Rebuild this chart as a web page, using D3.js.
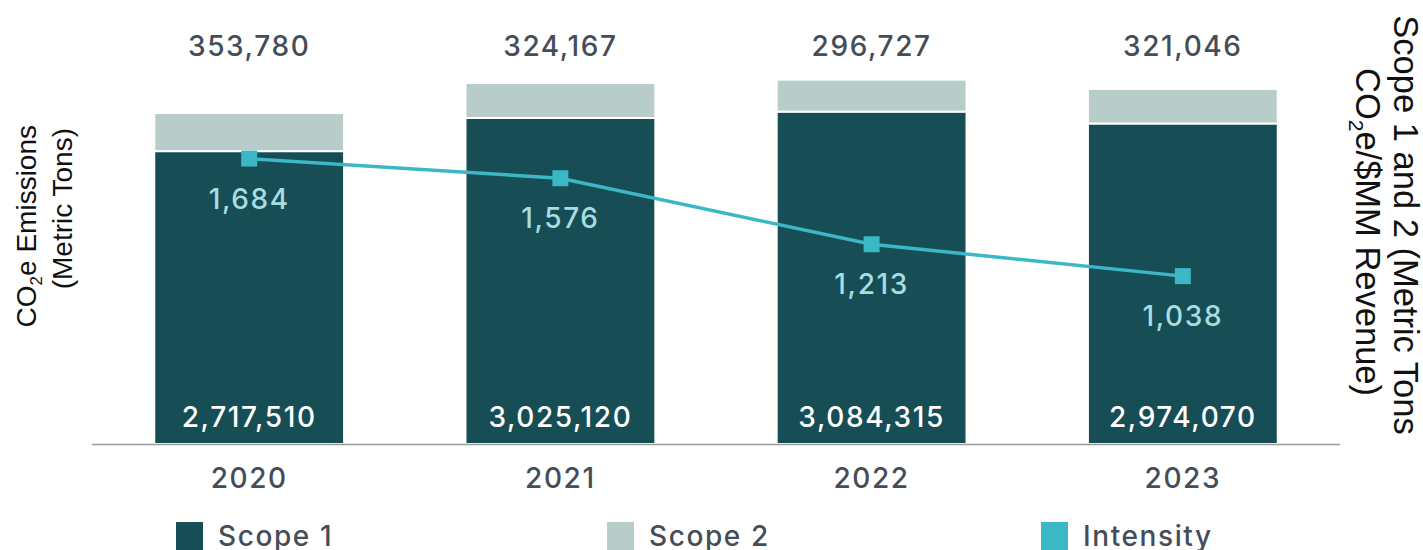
<!DOCTYPE html>
<html>
<head>
<meta charset="utf-8">
<script src="https://cdn.jsdelivr.net/npm/d3@7"></script>
<style>
  body { margin: 0; background: #fff; }
  svg { display: block; }
</style>
</head>
<body>
<div id="chart"></div>
<script>
const years = ["2020", "2021", "2022", "2023"];
const scope1 = [2717510, 3025120, 3084315, 2974070];
const scope2 = [353780, 324167, 296727, 321046];
const intensity = [1684, 1576, 1213, 1038];
const legendLabels = ["Scope 1", "Scope 2", "Intensity"];

const width = 1423,
    height = 550;
const colors = {
    scope1: "#174d55",
    scope2: "#b8cdca",
    line: "#3bb7c5",
    lineLabel: "#a7dde1",
    text: "#454d58",
};
const font = "Inter, 'Noto Sans', sans-serif";
const titleFont = "'Liberation Sans', Arial, sans-serif";
const fmt = d3.format(",");

const data = years.map((y, i) => ({
    year: y,
    s1: scope1[i],
    s2: scope2[i],
    intensity: intensity[i],
}));

const svg = d3
    .select("#chart")
    .append("svg")
    .attr("width", width)
    .attr("height", height)
    .attr("viewBox", [0, 0, width, height]);

const x = d3
    .scaleBand()
    .domain(years)
    .range([92, 1340])
    .paddingInner(0.39)
    .paddingOuter(0.2);

const y = d3.scaleLinear().domain([0, 4120000]).range([444, 0]);

// intensity on its own axis (not drawn)
const y2 = d3.scaleLinear().domain([0, 2550]).range([465, 1]);

// helper for the medium-weight labels
function label(sel) {
    return sel
        .attr("text-anchor", "middle")
        .attr("font-family", font)
        .attr("font-size", 28)
        .attr("font-weight", 500)
        .attr("letter-spacing", 1.6);
}

const bars = svg.append("g");

// scope 1
bars.selectAll("rect.s1")
    .data(data)
    .join("rect")
    .attr("class", "s1")
    .attr("x", (d) => x(d.year))
    .attr("width", x.bandwidth())
    .attr("y", (d) => y(d.s1))
    .attr("height", (d) => y(0) - y(d.s1))
    .attr("fill", colors.scope1)
    .attr("stroke", "#fff")
    .attr("stroke-width", 2);

// scope 2 stacked on top
bars.selectAll("rect.s2")
    .data(data)
    .join("rect")
    .attr("class", "s2")
    .attr("x", (d) => x(d.year))
    .attr("width", x.bandwidth())
    .attr("y", (d) => y(d.s1 + d.s2))
    .attr("height", (d) => y(d.s1) - y(d.s1 + d.s2))
    .attr("fill", colors.scope2)
    .attr("stroke", "#fff")
    .attr("stroke-width", 2);

// baseline
svg.append("line")
    .attr("x1", x.range()[0])
    .attr("x2", x.range()[1])
    .attr("y1", y(0) + 0.5)
    .attr("y2", y(0) + 0.5)
    .attr("stroke", "#9a9a9a")
    .attr("stroke-width", 1.5);

const cx = (d) => x(d.year) + x.bandwidth() / 2;

// scope 2 values in top row
svg.append("g")
    .selectAll("text")
    .data(data)
    .join("text")
    .call(label)
    .attr("x", cx)
    .attr("y", 56)
    .attr("fill", colors.text)
    .text((d) => fmt(d.s2));

// scope 1 values inside bars
svg.append("g")
    .selectAll("text")
    .data(data)
    .join("text")
    .call(label)
    .attr("x", cx)
    .attr("y", y(0) - 17)
    .attr("fill", "#fff")
    .text((d) => fmt(d.s1));

// year labels
svg.append("g")
    .selectAll("text")
    .data(data)
    .join("text")
    .call(label)
    .attr("x", cx)
    .attr("y", 488)
    .attr("fill", colors.text)
    .text((d) => d.year);

// intensity line
const line = d3
    .line()
    .x(cx)
    .y((d) => y2(d.intensity));

svg.append("path")
    .datum(data)
    .attr("d", line)
    .attr("fill", "none")
    .attr("stroke", colors.line)
    .attr("stroke-width", 3.5);

svg.append("g")
    .selectAll("rect")
    .data(data)
    .join("rect")
    .attr("x", (d) => cx(d) - 8)
    .attr("y", (d) => y2(d.intensity) - 8)
    .attr("width", 16)
    .attr("height", 16)
    .attr("fill", colors.line);

svg.append("g")
    .selectAll("text")
    .data(data)
    .join("text")
    .call(label)
    .attr("x", cx)
    .attr("y", (d) => y2(d.intensity) + 50)
    .attr("fill", colors.lineLabel)
    .text((d) => fmt(d.intensity));

// left axis title
const leftTitle = svg
    .append("text")
    .attr("transform", "translate(36,125) rotate(-90)")
    .attr("text-anchor", "end")
    .attr("font-family", titleFont)
    .attr("font-size", 28)
    .attr("fill", "#111");
leftTitle.append("tspan").text("CO");
leftTitle.append("tspan").attr("font-size", 17).attr("dy", 6).text("2");
leftTitle.append("tspan").attr("dy", -6).text("e Emissions");
svg.append("text")
    .attr("transform", "translate(72,128) rotate(-90)")
    .attr("text-anchor", "end")
    .attr("font-family", titleFont)
    .attr("font-size", 28)
    .attr("fill", "#111")
    .text("(Metric Tons)");

// right axis title
svg.append("text")
    .attr("transform", "translate(1394,225) rotate(90)")
    .attr("text-anchor", "middle")
    .attr("font-family", titleFont)
    .attr("font-size", 34.5)
    .attr("fill", "#111")
    .text("Scope 1 and 2 (Metric Tons");
const rightTitle2 = svg
    .append("text")
    .attr("transform", "translate(1356,232) rotate(90)")
    .attr("text-anchor", "middle")
    .attr("font-family", titleFont)
    .attr("font-size", 34.5)
    .attr("fill", "#111");
rightTitle2.append("tspan").text("CO");
rightTitle2.append("tspan").attr("font-size", 21).attr("dy", 7).text("2");
rightTitle2.append("tspan").attr("dy", -7).text("e/$MM Revenue)");

// legend
const legendColors = [colors.scope1, colors.scope2, colors.line];
const legendX = [176, 607, 1041];
const legend = svg
    .append("g")
    .selectAll("g")
    .data(legendLabels)
    .join("g")
    .attr("transform", (d, i) => `translate(${legendX[i]},522)`);

legend.append("rect")
    .attr("width", 27)
    .attr("height", 28)
    .attr("fill", (d, i) => legendColors[i]);

legend.append("text")
    .attr("x", 42)
    .attr("y", 24)
    .attr("font-family", font)
    .attr("font-size", 28)
    .attr("font-weight", 500)
    .attr("letter-spacing", 1.6)
    .attr("fill", colors.text)
    .text((d) => d);
</script>
</body>
</html>
